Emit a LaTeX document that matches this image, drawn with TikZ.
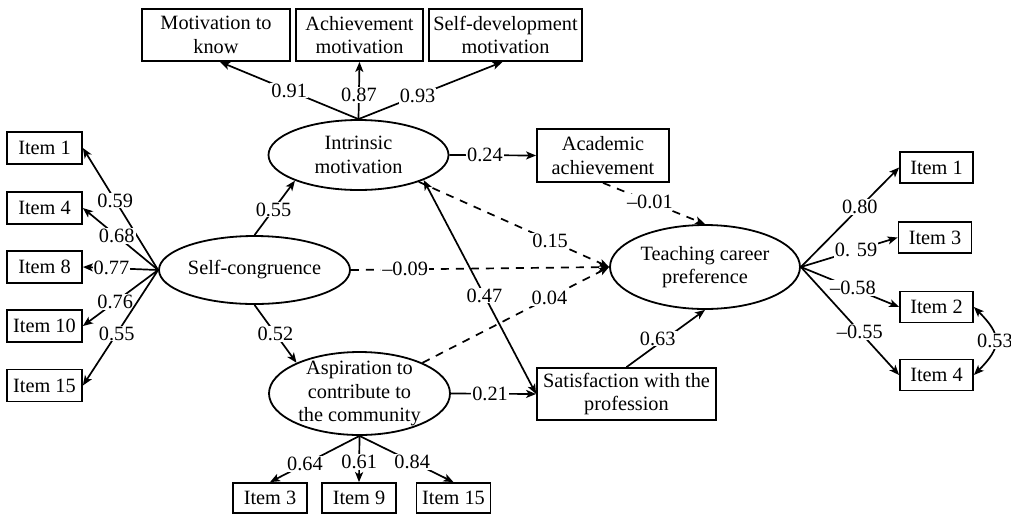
\documentclass[tikz,border=0pt]{standalone}
\usepackage{fontspec}
\setmainfont{Liberation Serif}
\usetikzlibrary{arrows.meta,shapes.geometric}
\begin{document}
\begin{tikzpicture}[x=1pt,y=-1pt,
  font=\fontsize{20.3}{23.5}\selectfont,
  obsbox/.style={draw,line width=1.8pt,rectangle,inner sep=1pt,align=center},
  itembox/.style={obsbox,minimum width=74pt,minimum height=31pt},
  latent/.style={draw,line width=1.8pt,ellipse,inner sep=0pt},
  arr/.style={line width=1.7pt,-{Stealth[length=10pt,width=8pt,inset=2.5pt]}},
  arrtwo/.style={line width=1.7pt,{Stealth[length=10pt,width=8pt,inset=2.5pt]}-{Stealth[length=10pt,width=8pt,inset=2.5pt]}},
  darr/.style={arr,dash pattern=on 8pt off 7pt},
  lbl/.style={fill=white,inner sep=1pt},
]
\useasboundingbox (0,0) rectangle (1011,515);

% indicators of intrinsic motivation
\node[obsbox,minimum width=148pt,minimum height=52pt] (mk) at (216,35) {Motivation to\\know};
\node[obsbox,minimum width=127pt,minimum height=52pt] (am) at (359.5,35) {Achievement\\motivation};
\node[obsbox,minimum width=153pt,minimum height=52pt] (sd) at (505.5,35) {Self-development\\motivation};

% latent variables
\node[latent,minimum width=180pt,minimum height=70pt,label={[align=center]center:Intrinsic\\motivation}] (im) at (358.5,155) {};
\node[latent,minimum width=191pt,minimum height=68pt,label={center:Self-congruence}] (sc) at (254.5,270) {};
\node[latent,minimum width=181pt,minimum height=83pt,label={[align=center]center:Aspiration to\\contribute to\\the community}] (asp) at (359.5,393.5) {};
\node[latent,minimum width=190pt,minimum height=84pt,label={[align=center]center:Teaching career\\preference}] (tcp) at (705,267) {};

% observed mediators
\node[obsbox,minimum width=132pt,minimum height=53pt] (aa) at (603,155.5) {Academic\\achievement};
\node[obsbox,minimum width=179pt,minimum height=52pt] (sat) at (626.5,394) {Satisfaction with the\\profession};

% left items
\node[itembox,minimum width=75pt,minimum height=32pt] (l1) at (44.5,148) {Item 1};
\node[itembox,minimum width=75pt,minimum height=32pt] (l4) at (44.5,208) {Item 4};
\node[itembox,minimum width=75pt,minimum height=32pt] (l8) at (44.5,267) {Item 8};
\node[itembox,minimum width=75pt,minimum height=32pt] (l10) at (44.5,326) {Item 10};
\node[itembox,minimum width=75pt,minimum height=32pt] (l15) at (44.5,385.5) {Item 15};

% bottom items
\node[itembox,minimum height=30pt] (b3) at (270,498) {Item 3};
\node[itembox,minimum height=30pt] (b9) at (359,498) {Item 9};
\node[itembox,minimum height=30pt] (b15) at (453.5,498) {Item 15};

% right items
\node[itembox,minimum width=73pt] (r1) at (936.5,167.5) {Item 1};
\node[itembox,minimum width=73pt] (r3) at (935,237.5) {Item 3};
\node[itembox,minimum width=73pt] (r2) at (936.5,307) {Item 2};
\node[itembox,minimum width=73pt] (r4) at (936.5,375) {Item 4};

% loadings of intrinsic motivation
\draw[arr] (im.north) -- node[lbl,pos=0.5]{0.91} ([xshift=4pt]mk.south);
\draw[arr] (im.north) -- node[lbl,pos=0.42]{0.87} (am.south);
\draw[arr] (im.north) -- node[lbl,pos=0.41]{0.93} ([xshift=-3pt]sd.south);

% loadings of self-congruence
\draw[arr] (sc.west) -- node[lbl,pos=0.57]{0.59} (l1.east);
\draw[arr] (sc.west) -- node[lbl,pos=0.55]{0.68} (l4.east);
\draw[arr] (sc.west) -- node[lbl,pos=0.62]{0.77} (l8.east);
\draw[arr] (sc.west) -- node[lbl,pos=0.57]{0.76} (l10.east);
\draw[arr] (sc.west) -- node[lbl,pos=0.55]{0.55} (l15.east);

% loadings of aspiration
\draw[arr] (asp.south) -- node[lbl,pos=0.61]{0.64} (b3.north);
\draw[arr] (asp.south) -- node[lbl,pos=0.56]{0.61} (b9.north);
\draw[arr] (asp.south) -- node[lbl,pos=0.56]{0.84} (b15.north);

% loadings of teaching career preference
\draw[arr] (tcp.east) -- node[lbl,pos=0.6]{0.80} (r1.west);
\draw[arr] (tcp.east) -- node[lbl,pos=0.57]{0. 59} (r3.west);
\draw[arr] (tcp.east) -- node[lbl,pos=0.53]{\textendash0.58} (r2.west);
\draw[arr] (tcp.east) -- node[lbl,pos=0.6]{\textendash0.55} (r4.west);
\draw[arrtwo] (r2.east) to[out=-45,in=45,looseness=1.5] node[lbl]{0.53} (r4.east);

% structural paths
\draw[arr] (sc.north) -- node[lbl,pos=0.47]{0.55} (im.-158);
\draw[arr] (sc.south) -- node[lbl,pos=0.5]{0.52} (asp.154);
\draw[arr] (im.east) -- node[lbl,pos=0.41]{0.24} (aa.west);
\draw[arr] (asp.east) -- node[lbl,pos=0.46]{0.21} (sat.west);
\draw[darr] (sc.east) -- node[lbl,pos=0.21]{\textendash0.09} (tcp.west);
\draw[darr] (im.-24) -- node[lbl,pos=0.69]{0.15} (tcp.west);
\draw[darr] (asp.26) -- node[lbl,pos=0.68]{0.04} (tcp.west);
\draw[darr] (aa.south) -- node[lbl,pos=0.46]{\textendash0.01} (tcp.north);
\draw[arrtwo] (im.-21) -- node[lbl,pos=0.54]{0.47} (sat.west);
\draw[arr] (sat.north) -- node[lbl,pos=0.5,xshift=-8pt]{0.63} (tcp.south);
\end{tikzpicture}
\end{document}
